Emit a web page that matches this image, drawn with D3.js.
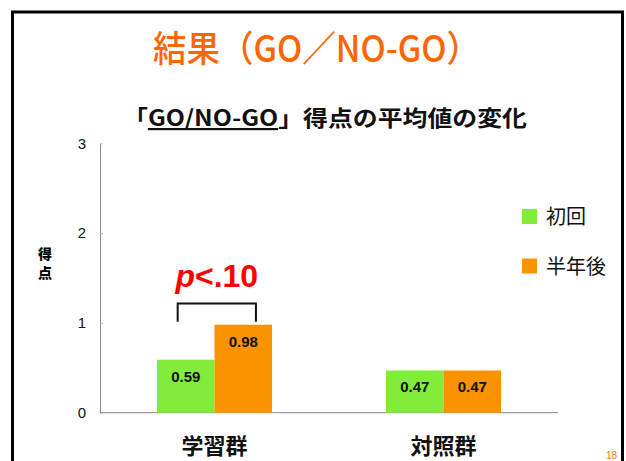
<!DOCTYPE html>
<html>
<head>
<meta charset="utf-8">
<script src="https://cdn.jsdelivr.net/npm/d3@7"></script>
<style>
  body { margin: 0; background: #fff; }
  svg { display: block; }
  .jp { font-family: "Noto Sans CJK JP", sans-serif; }
  .num { font-family: "Liberation Sans", Arial, sans-serif; }
</style>
</head>
<body>
<div id="chart"></div>
<script>
var categories = ['学習群', '対照群'];
var series = ['初回', '半年後'];
var initial = [0.59, 0.47];
var sixMonths = [0.98, 0.47];
var yTicks = [0, 1, 2, 3];
var colors = ['#82EC3A', '#F99400'];

var w = 626, h = 461,
    plotL = 100, plotR = 558, plotT = 143.3, plotB = 412.7;

var svg = d3.select('#chart').append('svg')
    .attr('width', w)
    .attr('height', h);

// slide frame (open at the bottom, runs off the picture)
svg.append('path')
    .attr('d', 'M12.5,' + (h + 5) + 'V12H622.5V' + (h + 5))
    .attr('fill', 'none')
    .attr('stroke', '#000')
    .attr('stroke-width', 3);

// slide title
svg.append('text')
    .attr('class', 'jp')
    .attr('x', 153).attr('y', 62)
    .attr('textLength', 327)
    .attr('lengthAdjust', 'spacingAndGlyphs')
    .attr('fill', '#FF6600')
    .attr('font-size', 36)
    .attr('font-weight', 500)
    .text('結果（GO／NO-GO）');

// chart title
var sub = svg.append('text')
    .attr('class', 'jp')
    .attr('x', 123).attr('y', 126)
    .attr('textLength', 404)
    .attr('lengthAdjust', 'spacingAndGlyphs')
    .attr('font-size', 22)
    .attr('font-weight', 'bold')
    .attr('fill', '#111');
sub.append('tspan').text('「');
sub.append('tspan').attr('text-decoration', 'underline').text('GO/NO-GO');
sub.append('tspan').text('」得点の平均値の変化');

var x0 = d3.scaleBand()
    .domain(categories)
    .range([plotL, plotR]);

var x1 = d3.scaleBand()
    .domain(series)
    .range([0, x0.bandwidth()])
    .paddingOuter(0.99);

var y = d3.scaleLinear()
    .domain([0, 3])
    .range([plotB, plotT]);

// y axis
var yAxis = svg.append('g')
    .attr('transform', 'translate(' + plotL + ',0)')
    .call(d3.axisLeft(y).tickValues(yTicks).tickFormat(d3.format('d'))
        .tickSizeInner(-3).tickSizeOuter(0).tickPadding(14));
yAxis.select('.domain').attr('stroke', '#888');
yAxis.selectAll('.tick line').attr('stroke', '#bbb');
yAxis.selectAll('.tick text')
    .attr('class', 'num')
    .attr('font-size', 15)
    .attr('fill', '#111');

// x axis line
svg.append('line')
    .attr('x1', plotL).attr('x2', plotR)
    .attr('y1', y(0)).attr('y2', y(0))
    .attr('stroke', '#888');

// y title, stacked
svg.selectAll('.ytitle')
    .data(['得', '点'])
    .enter().append('text')
    .attr('class', 'jp')
    .attr('x', 45)
    .attr('y', function(d, i) { return 259 + i * 19; })
    .attr('text-anchor', 'middle')
    .attr('font-size', 14)
    .attr('font-weight', 900)
    .text(function(d) { return d; });

// bars
var rows = categories.map(function(c, i) {
    return { cat: c, values: [initial[i], sixMonths[i]] };
});

var groups = svg.selectAll('.group')
    .data(rows)
    .enter().append('g')
    .attr('class', 'group')
    .attr('transform', function(d) { return 'translate(' + x0(d.cat) + ',0)'; });

var bars = groups.selectAll('.bar')
    .data(function(d) {
        return d.values.map(function(v, j) { return { s: series[j], v: v, j: j }; });
    })
    .enter().append('g');

bars.append('rect')
    .attr('x', function(d) { return x1(d.s); })
    .attr('y', function(d) { return y(d.v); })
    .attr('width', x1.bandwidth())
    .attr('height', function(d) { return y(0) - y(d.v); })
    .attr('fill', function(d) { return colors[d.j]; });

bars.append('text')
    .attr('class', 'num')
    .attr('x', function(d) { return x1(d.s) + x1.bandwidth() / 2; })
    .attr('y', function(d) { return y(d.v) + 22; })
    .attr('text-anchor', 'middle')
    .attr('font-size', 15)
    .attr('font-weight', 'bold')
    .attr('fill', '#111')
    .text(function(d) { return d3.format('.2f')(d.v); });

// category labels
svg.selectAll('.cat')
    .data(categories)
    .enter().append('text')
    .attr('class', 'jp')
    .attr('x', function(d) { return x0(d) + x0.bandwidth() / 2; })
    .attr('y', 454)
    .attr('text-anchor', 'middle')
    .attr('font-size', 22)
    .attr('font-weight', 'bold')
    .attr('fill', '#111')
    .text(function(d) { return d; });

// significance bracket
var bx1 = x0(categories[0]) + x1(series[0]) + x1.bandwidth() * 0.36,
    bx2 = x0(categories[0]) + x1(series[1]) + x1.bandwidth() * 0.72,
    by = 303.5;
svg.append('path')
    .attr('d', 'M' + bx1 + ',' + (y(0.98) - 3) + 'V' + by + 'H' + bx2 + 'V' + (y(0.98) - 3))
    .attr('fill', 'none')
    .attr('stroke', '#111')
    .attr('stroke-width', 2);

var ptxt = svg.append('text')
    .attr('class', 'num')
    .attr('x', (bx1 + bx2) / 2)
    .attr('y', 287)
    .attr('text-anchor', 'middle')
    .attr('font-size', 32)
    .attr('font-weight', 'bold')
    .attr('fill', '#FF0000');
ptxt.append('tspan').attr('font-style', 'italic').text('p');
ptxt.append('tspan').text('<.10');

// legend
var legend = svg.selectAll('.legend')
    .data(series)
    .enter().append('g')
    .attr('transform', function(d, i) { return 'translate(522,' + (209 + i * 49.5) + ')'; });

legend.append('rect')
    .attr('width', 15).attr('height', 15)
    .attr('fill', function(d, i) { return colors[i]; });

legend.append('text')
    .attr('class', 'jp')
    .attr('x', 24).attr('y', 15)
    .attr('font-size', 20)
    .attr('fill', '#111')
    .text(function(d) { return d; });

// page number
svg.append('text')
    .attr('class', 'num')
    .attr('x', 617).attr('y', 459)
    .attr('text-anchor', 'end')
    .attr('font-size', 10)
    .attr('fill', '#E08020')
    .text('18');
</script>
</body>
</html>
